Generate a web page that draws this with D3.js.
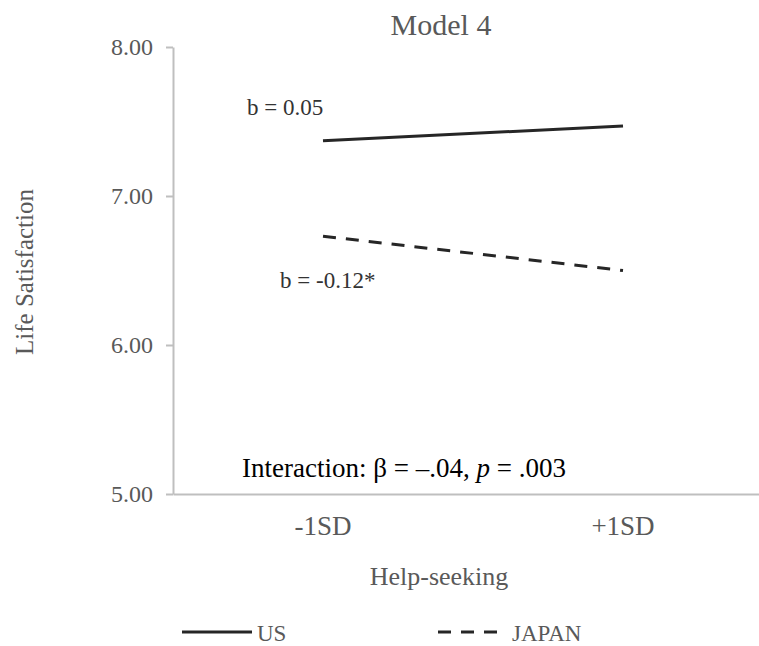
<!DOCTYPE html>
<html>
<head>
<meta charset="utf-8">
<script src="https://cdn.jsdelivr.net/npm/d3@7"></script>
<style>
  body { margin: 0; background: #fff; }
  svg { display: block; font-family: "Liberation Serif", "Times New Roman", serif; }
  .tick text { fill: #595959; }
</style>
</head>
<body>
<div id="chart"></div>
<script>
// data
var categories = ["-1SD", "+1SD"];
var usValues = [7.37, 7.47];
var japanValues = [6.73, 6.50];
var seriesNames = ["US", "JAPAN"];
var yTicks = [5, 6, 7, 8];

var svgWidth = 759;
var svgHeight = 646;

var svg = d3.select("#chart")
  .append("svg")
  .attr("width", svgWidth)
  .attr("height", svgHeight);

// plot area
var plot = {left: 173, right: 773, top: 47, bottom: 494};

var x = d3.scaleBand()
  .domain(categories)
  .range([plot.left, plot.right])
  .padding(0);

var y = d3.scaleLinear()
  .domain([5, 8])
  .range([plot.bottom, plot.top]);

// y axis
var yAxis = svg.append("g")
  .attr("transform", `translate(${plot.left},0)`)
  .call(d3.axisLeft(y).tickValues(yTicks).tickFormat(d3.format(".2f")).tickSizeInner(7).tickSizeOuter(0).tickPadding(13));
yAxis.select(".domain").attr("stroke", "#bfbfbf").attr("stroke-width", 2);
yAxis.selectAll(".tick line").attr("stroke", "#bfbfbf").attr("stroke-width", 2);
yAxis.selectAll(".tick text").attr("font-size", 24).attr("font-family", "Liberation Serif");

// x axis
var xAxis = svg.append("g")
  .attr("transform", `translate(0,${plot.bottom})`)
  .call(d3.axisBottom(x).tickSizeInner(0).tickSizeOuter(0).tickPadding(22));
xAxis.select(".domain").attr("stroke", "#bfbfbf").attr("stroke-width", 2);
xAxis.selectAll(".tick text").attr("font-size", 27).attr("font-family", "Liberation Serif");

// lines
var line = d3.line()
  .x((d, i) => x(categories[i]) + x.bandwidth() / 2)
  .y(d => y(d));

svg.append("path")
  .datum(usValues)
  .attr("d", line)
  .attr("fill", "none")
  .attr("stroke", "#262626")
  .attr("stroke-width", 3);

svg.append("path")
  .datum(japanValues)
  .attr("d", line)
  .attr("fill", "none")
  .attr("stroke", "#262626")
  .attr("stroke-width", 3)
  .attr("stroke-dasharray", "13,10");

// title
svg.append("text")
  .attr("x", 441)
  .attr("y", 35)
  .attr("text-anchor", "middle")
  .attr("font-size", 30)
  .attr("fill", "#595959")
  .text("Model 4");

// axis titles
svg.append("text")
  .attr("transform", "translate(33,272) rotate(-90)")
  .attr("text-anchor", "middle")
  .attr("font-size", 25)
  .attr("fill", "#595959")
  .text("Life Satisfaction");

svg.append("text")
  .attr("x", 439)
  .attr("y", 585)
  .attr("text-anchor", "middle")
  .attr("font-size", 26)
  .attr("fill", "#595959")
  .text("Help-seeking");

// annotations
svg.append("text")
  .attr("x", 247)
  .attr("y", 115)
  .attr("font-size", 23)
  .attr("fill", "#333")
  .text("b = 0.05");

svg.append("text")
  .attr("x", 280)
  .attr("y", 288)
  .attr("font-size", 23)
  .attr("fill", "#333")
  .text("b = -0.12*");

var inter = svg.append("text")
  .attr("x", 242)
  .attr("y", 477)
  .attr("font-size", 27)
  .attr("fill", "#000");
inter.append("tspan").text("Interaction: \u03b2 = \u2013.04, ");
inter.append("tspan").attr("font-style", "italic").text("p");
inter.append("tspan").text(" = .003");

// legend
var legend = svg.append("g");
var legendItems = [
  {name: seriesNames[0], x0: 182, len: 70, dash: null},
  {name: seriesNames[1], x0: 438, len: 59, dash: "13,10"}
];
legendItems.forEach(function(d) {
  legend.append("line")
    .attr("x1", d.x0)
    .attr("x2", d.x0 + d.len)
    .attr("y1", 632)
    .attr("y2", 632)
    .attr("stroke", "#262626")
    .attr("stroke-width", 3)
    .attr("stroke-dasharray", d.dash);
  legend.append("text")
    .attr("x", d.x0 + d.len + 5 + (d.dash ? 10 : 0))
    .attr("y", 641)
    .attr("font-size", 23)
    .attr("fill", "#595959")
    .text(d.name);
});
</script>
</body>
</html>
